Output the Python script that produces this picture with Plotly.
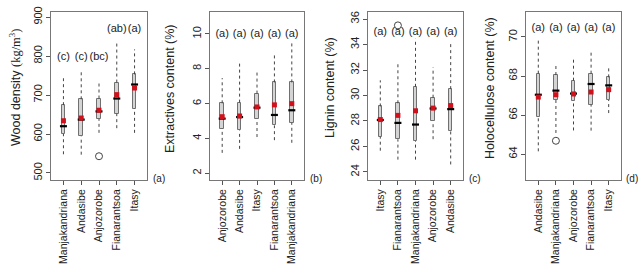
import plotly.graph_objects as go

# ---------------- data ----------------
wd_sites = ["Manjakandriana", "Andasibe", "Anjozorobe", "Fianarantsoa", "Itasy"]
wd_low = [548, 547, 603, 615, 603]
wd_q1 = [600, 594, 639, 652, 665]
wd_med = [620, 637, 658, 691, 727]
wd_mean = [634, 641, 661, 701, 718]
wd_q3 = [674, 689, 691, 732, 753]
wd_high = [743, 764, 734, 835, 817]
wd_out_x = ["Anjozorobe"]
wd_out_y = [543]
wd_letters = ["(c)", "(c)", "(bc)", "(ab)", "(a)"]
wd_letter_y = [797, 797, 797, 869, 869]

ex_sites = ["Anjozorobe", "Andasibe", "Itasy", "Fianarantsoa", "Manjakandriana"]
ex_low = [3.16, 3.39, 4.07, 3.89, 3.74]
ex_q1 = [4.55, 4.45, 5.09, 4.74, 4.89]
ex_med = [5.13, 5.22, 5.76, 5.34, 5.61]
ex_mean = [5.24, 5.28, 5.80, 5.92, 5.99]
ex_q3 = [6.01, 6.05, 6.57, 7.21, 7.21]
ex_high = [7.46, 8.30, 7.92, 8.84, 9.61]
ex_out_x = []
ex_out_y = []
ex_letters = ["(a)", "(a)", "(a)", "(a)", "(a)"]
ex_letter_y = [10.0, 10.0, 10.0, 10.0, 10.0]

lg_sites = ["Itasy", "Fianarantsoa", "Manjakandriana", "Anjozorobe", "Andasibe"]
lg_low = [25.67, 24.97, 24.97, 26.57, 24.59]
lg_q1 = [26.77, 26.57, 26.44, 27.98, 27.21]
lg_med = [28.08, 27.85, 27.72, 28.98, 28.93]
lg_mean = [28.11, 28.44, 28.80, 29.01, 29.21]
lg_q3 = [29.14, 29.39, 30.68, 29.83, 30.50]
lg_high = [31.19, 32.48, 34.46, 32.22, 34.15]
lg_out_x = ["Fianarantsoa"]
lg_out_y = [35.5]
lg_letters = ["(a)", "(a)", "(a)", "(a)", "(a)"]
lg_letter_y = [35.0, 35.0, 35.0, 35.0, 35.0]

ho_sites = ["Andasibe", "Manjakandriana", "Anjozorobe", "Fianarantsoa", "Itasy"]
ho_low = [64.14, 65.08, 65.21, 65.20, 66.10]
ho_q1 = [65.88, 66.79, 66.70, 66.53, 66.77]
ho_med = [67.04, 67.25, 67.10, 67.59, 67.52]
ho_mean = [66.92, 67.04, 67.08, 67.18, 67.30]
ho_q3 = [68.12, 68.05, 67.76, 68.12, 67.93]
ho_high = [69.90, 68.55, 68.87, 69.35, 68.44]
ho_out_x = ["Manjakandriana"]
ho_out_y = [64.68]
ho_letters = ["(a)", "(a)", "(a)", "(a)", "(a)"]
ho_letter_y = [70.46, 70.46, 70.46, 70.46, 70.46]

y_titles = [
    'Wood density <span style="font-family:Liberation Serif">(kg/m<sup>3</sup>)</span>',
    "Extractives content (%)",
    "Lignin content (%)",
    "Holocellulose content (%)",
]
y_ranges = [[482, 913], [1.6, 11.26], [23.37, 36.55], [62.67, 71.28]]
y_ticks = [[500, 600, 700, 800, 900], [2, 4, 6, 8, 10], [24, 26, 28, 30, 32, 34, 36], [64, 66, 68, 70]]
panel_tags = ["(a)", "(b)", "(c)", "(d)"]

panels = [
    (wd_sites, wd_low, wd_q1, wd_med, wd_mean, wd_q3, wd_high, wd_out_x, wd_out_y, wd_letters, wd_letter_y),
    (ex_sites, ex_low, ex_q1, ex_med, ex_mean, ex_q3, ex_high, ex_out_x, ex_out_y, ex_letters, ex_letter_y),
    (lg_sites, lg_low, lg_q1, lg_med, lg_mean, lg_q3, lg_high, lg_out_x, lg_out_y, lg_letters, lg_letter_y),
    (ho_sites, ho_low, ho_q1, ho_med, ho_mean, ho_q3, ho_high, ho_out_x, ho_out_y, ho_letters, ho_letter_y),
]

# ---------------- layout geometry ----------------
W, H = 643, 272
px_x = [(51, 147), (210, 304), (368, 463), (526, 621)]
px_y = (12, 180)
title_x = [15, 170, 330, 490]
tag_dx = [12, 12, 12, 11]
FONT = "Liberation Sans, Arial, sans-serif"

fig = go.Figure()
layout = dict(
    width=W, height=H, margin=dict(l=0, r=0, t=0, b=0),
    paper_bgcolor="white", plot_bgcolor="white",
    showlegend=False, bargap=0,
    font=dict(family=FONT, size=11, color="#222"),
)
annotations = []

for i, (sites, low, q1, med, mean, q3, high, ox, oy, letters, ly) in enumerate(panels):
    n = i + 1
    xa = "x" if n == 1 else f"x{n}"
    ya = "y" if n == 1 else f"y{n}"
    # whiskers (dashed), two segments per box
    wx, wy = [], []
    for s, lo, a, b, hi in zip(sites, low, q1, q3, high):
        wx += [s, s, None, s, s, None]
        wy += [lo, a, None, b, hi, None]
    fig.add_trace(go.Scatter(x=wx, y=wy, mode="lines", xaxis=xa, yaxis=ya,
                             line=dict(color="#444", width=1, dash="dot"), hoverinfo="skip"))
    # boxes
    fig.add_trace(go.Bar(x=sites, y=[b - a for a, b in zip(q1, q3)], base=q1, width=0.2,
                         xaxis=xa, yaxis=ya,
                         marker=dict(color="#d4d4d4", line=dict(color="#707070", width=1))))
    # medians
    fig.add_trace(go.Scatter(x=sites, y=med, mode="markers", xaxis=xa, yaxis=ya,
                             marker=dict(symbol="line-ew", size=5, line=dict(color="black", width=2.2))))
    # means
    fig.add_trace(go.Scatter(x=sites, y=mean, mode="markers", xaxis=xa, yaxis=ya,
                             marker=dict(symbol="square", size=5, color="#d0101a")))
    # outliers
    if ox:
        fig.add_trace(go.Scatter(x=ox, y=oy, mode="markers", xaxis=xa, yaxis=ya,
                                 marker=dict(symbol="circle-open", size=7, color="#444", line=dict(width=1))))
    # letters
    fig.add_trace(go.Scatter(x=sites, y=ly, mode="text", text=letters, xaxis=xa, yaxis=ya,
                             textfont=dict(size=11, color="#222", family=FONT), textposition="middle center"))

    x0, x1 = px_x[i]
    dom_x = [x0 / W, x1 / W]
    dom_y = [(H - px_y[1]) / H, (H - px_y[0]) / H]
    axis_common = dict(showline=True, mirror=True, linecolor="#777", linewidth=1,
                       ticks="outside", ticklen=4, tickcolor="#555", showgrid=False,
                       zeroline=False, automargin=False)
    layout["xaxis" if n == 1 else f"xaxis{n}"] = dict(
        axis_common, domain=dom_x, anchor=ya, type="category", range=[-0.7, 4.7],
        categoryorder="array", categoryarray=sites, tickangle=-90,
        tickfont=dict(size=10.5, color="#222", family=FONT))
    layout["yaxis" if n == 1 else f"yaxis{n}"] = dict(
        axis_common, domain=dom_y, anchor=xa, range=y_ranges[i], tickvals=y_ticks[i],
        tickangle=-90, tickfont=dict(size=11, color="#222", family=FONT))
    annotations.append(dict(text=y_titles[i], xref="paper", yref="paper",
                            x=title_x[i] / W, y=(H - 88) / H, textangle=-90, showarrow=False,
                            font=dict(size=12.5, color="#222", family=FONT),
                            xanchor="center", yanchor="middle"))
    annotations.append(dict(text=panel_tags[i], xref="paper", yref="paper",
                            x=(x1 + tag_dx[i]) / W, y=(H - 178) / H, showarrow=False,
                            font=dict(size=10, color="#222", family=FONT),
                            xanchor="center", yanchor="middle"))

layout["annotations"] = annotations
fig.update_layout(**layout)
fig.write_html("out.html", config={"displayModeBar": False},
               post_script="document.body.style.margin='0';document.body.style.overflow='hidden';")
